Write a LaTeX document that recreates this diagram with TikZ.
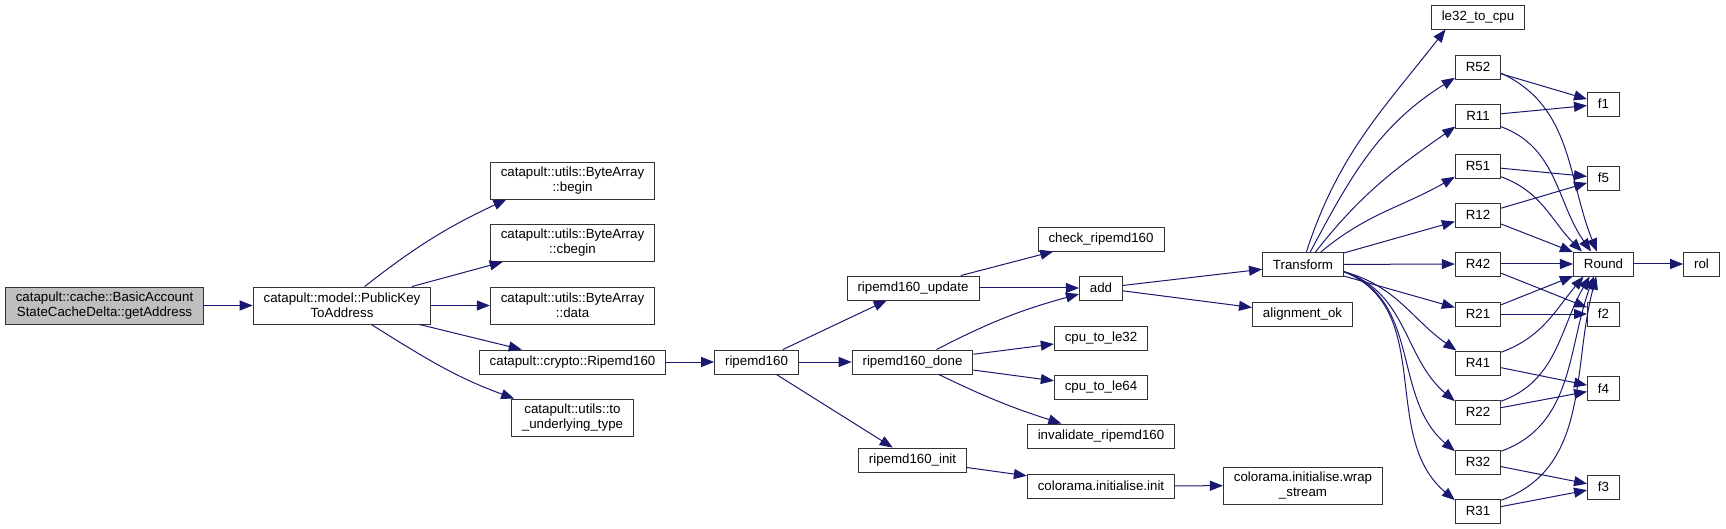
\documentclass[tikz,border=0pt]{standalone}
\usepackage{fontspec}
\setmainfont{Liberation Sans}
\usepackage{tikz}
\usetikzlibrary{arrows.meta}
\definecolor{edgeblue}{HTML}{191970}
\definecolor{rootgray}{HTML}{BFBFBF}

\begin{document}
\begin{tikzpicture}[x=1pt, y=1pt,
  fn/.style={draw=black!80, line width=0.9pt, fill=white, inner xsep=10.5pt, inner ysep=2pt,
    minimum height=24pt, align=center, font=\fontsize{13.3}{15}\selectfont},
  fn2/.style={fn, minimum height=37pt},
  call/.style={draw=edgeblue, line width=1pt, -{Triangle[length=13pt,width=10pt]}}]

  \useasboundingbox (0,0) rectangle (1726,-529);

  % caller and the functions it calls
  \node[fn2, fill=rootgray] (ga) at (104.5,-305.5) {catapult::cache::BasicAccount\\StateCacheDelta::getAddress};
  \node[fn2] (pk) at (342,-305.5) {catapult::model::PublicKey\\ToAddress};
  \node[fn2] (bgn) at (572.5,-180.5) {catapult::utils::ByteArray\\::begin};
  \node[fn2] (cbegin) at (572.5,-243) {catapult::utils::ByteArray\\::cbegin};
  \node[fn2] (data) at (572.5,-305.5) {catapult::utils::ByteArray\\::data};
  \node[fn] (ripe) at (572.5,-362) {catapult::crypto::Ripemd160};
  \node[fn2] (tut) at (572.5,-417.5) {catapult::utils::to\\\_underlying\_type};

  % ripemd160 and helpers
  \node[fn] (rmd) at (756.5,-362) {ripemd160};
  \node[fn] (update) at (913,-288) {ripemd160\_update};
  \node[fn] (done) at (912.5,-362) {ripemd160\_done};
  \node[fn] (init) at (912.5,-460) {ripemd160\_init};
  \node[fn] (check) at (1101,-239) {check\_ripemd160};
  \node[fn] (add) at (1101,-288) {add};
  \node[fn] (le32) at (1101,-338) {cpu\_to\_le32};
  \node[fn] (le64) at (1101,-387) {cpu\_to\_le64};
  \node[fn] (inval) at (1101,-436) {invalidate\_ripemd160};
  \node[fn] (cinit) at (1101,-486) {colorama.initialise.init};
  \node[fn] (transform) at (1303,-264.5) {Transform};
  \node[fn] (align) at (1302.5,-314) {alignment\_ok};
  \node[fn2] (wrap) at (1303,-485.5) {colorama.initialise.wrap\\\_stream};

  % rounds
  \node[fn] (lecpu) at (1478,-17) {le32\_to\_cpu};
  \node[fn] (R52) at (1478,-67) {R52};
  \node[fn] (R11) at (1478,-116) {R11};
  \node[fn] (R51) at (1478,-166) {R51};
  \node[fn] (R12) at (1478,-215) {R12};
  \node[fn] (R42) at (1478,-264) {R42};
  \node[fn] (R21) at (1478,-314) {R21};
  \node[fn] (R41) at (1478,-363) {R41};
  \node[fn] (R22) at (1478,-412) {R22};
  \node[fn] (R32) at (1478,-462) {R32};
  \node[fn] (R31) at (1478,-511) {R31};
  \node[fn] (f1) at (1603.5,-104) {f1};
  \node[fn] (f5) at (1603.5,-178) {f5};
  \node[fn] (round) at (1603.5,-264) {Round};
  \node[fn] (f2) at (1603.5,-314) {f2};
  \node[fn] (f4) at (1603.5,-388.5) {f4};
  \node[fn] (f3) at (1603.5,-487) {f3};
  \node[fn] (rol) at (1701.5,-264) {rol};

  % calls from the left part
  \draw[call] (ga) -- (pk);
  \draw[call] (pk.40) to[out=38,in=205] (bgn.196);
  \draw[call] (pk) -- (cbegin);
  \draw[call] (pk) -- (data);
  \draw[call] (pk) -- (ripe);
  \draw[call] (pk.-33) to[out=-32,in=160] (tut.162);
  \draw[call] (ripe) -- (rmd);
  \draw[call] (rmd) -- (update);
  \draw[call] (rmd) -- (done);
  \draw[call] (rmd) -- (init);
  \draw[call] (update) -- (check);
  \draw[call] (update) -- (add);
  \draw[call] (done) to[bend left=6] (add);
  \draw[call] (done) -- (le32);
  \draw[call] (done) -- (le64);
  \draw[call] (done) to[bend right=4] (inval);
  \draw[call] (init) -- (cinit);
  \draw[call] (cinit) -- (wrap);
  \draw[call] (add) -- (transform);
  \draw[call] (add) -- (align);

  % Transform fan
  \draw[call] (transform.75) to[out=72,in=232] (lecpu.201);
  \draw[call] (transform.60) to[out=62,in=212] (R52.205);
  \draw[call] (transform.45) to[out=52,in=215] (R11.205);
  \draw[call] (transform.35) to[out=40,in=210] (R51.205);
  \draw[call] (transform) -- (R12);
  \draw[call] (transform) -- (R42);
  \draw[call] (transform) -- (R21);
  \draw[call] (transform.-10) to[out=-15,in=145] (R41.150);
  \draw[call] (transform.-10) to[out=-18,in=140] (R22.155);
  \draw[call] (transform.-10) to[out=-20,in=140] (R32.155);
  \draw[call] (transform.-10) to[out=-22,in=140] (R31.155);

  % rounds to f and Round
  \draw[call] (R52) -- (f1);
  \draw[call] (R52.-15) to[out=-25,in=112] (round.118);
  \draw[call] (R11) -- (f1);
  \draw[call] (R11.-25) to[out=-20,in=125] (round.135);
  \draw[call] (R51) -- (f5);
  \draw[call] (R51.-25) to[out=-20,in=135] (round.150);
  \draw[call] (R12) -- (f5);
  \draw[call] (R12) -- (round);
  \draw[call] (R42) -- (round);
  \draw[call] (R42) -- (f2);
  \draw[call] (R21) -- (round);
  \draw[call] (R21) -- (f2);
  \draw[call] (R41.25) to[out=20,in=230] (round.212);
  \draw[call] (R41) -- (f4);
  \draw[call] (R22.25) to[out=20,in=240] (round.222);
  \draw[call] (R22) -- (f4);
  \draw[call] (R32.25) to[out=20,in=250] (round.232);
  \draw[call] (R32) -- (f3);
  \draw[call] (R31.25) to[out=20,in=255] (round.240);
  \draw[call] (R31) -- (f3);
  \draw[call] (round) -- (rol);
\end{tikzpicture}
\end{document}
